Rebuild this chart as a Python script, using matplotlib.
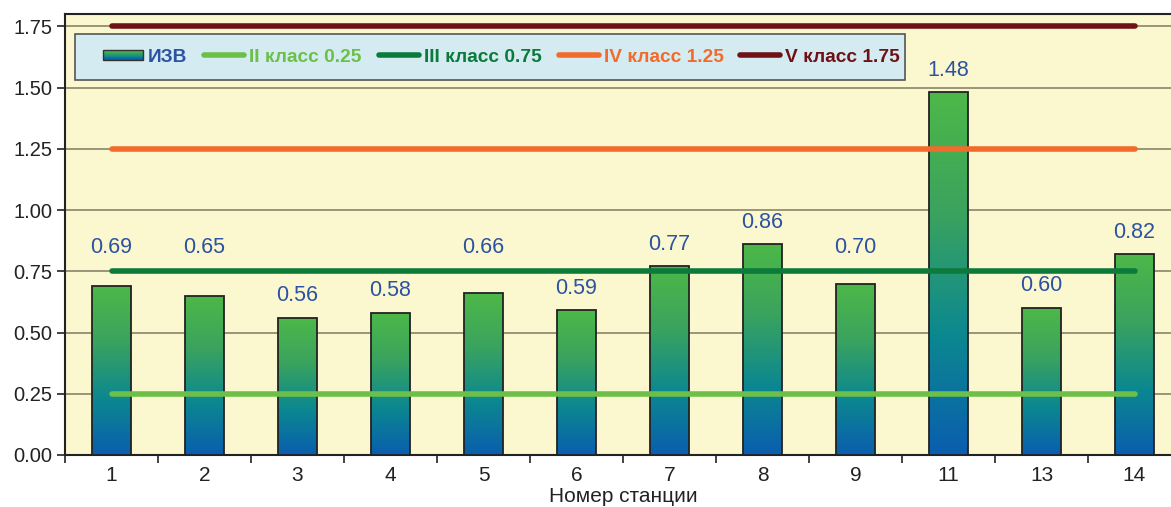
import numpy as np
import matplotlib
matplotlib.use("Agg")
import matplotlib.pyplot as plt
from matplotlib import font_manager
from matplotlib.patches import Rectangle
from matplotlib.lines import Line2D
from matplotlib.legend_handler import HandlerBase
from matplotlib.colors import LinearSegmentedColormap

stations = ["1", "2", "3", "4", "5", "6", "7", "8", "9", "11", "13", "14"]
izv = [0.69, 0.65, 0.56, 0.58, 0.66, 0.59, 0.77, 0.86, 0.70, 1.48, 0.60, 0.82]
class_names = ["II класс 0.25", "III класс 0.75", "IV класс 1.25", "V класс 1.75"]
class_values = [0.25, 0.75, 1.25, 1.75]
class_colors = ["#6CC04A", "#0B7A3B", "#F26A2C", "#6E1216"]
yticks = [0.0, 0.25, 0.5, 0.75, 1.0, 1.25, 1.5, 1.75]

W, H = 1171, 507
fig = plt.figure(figsize=(W / 100, H / 100), dpi=100)
fig.patch.set_facecolor("white")
ax = fig.add_axes([65 / W, 1 - 455 / H, 1116 / W, 441 / H])
bg = "#FBF7CF"
ax.set_facecolor(bg)

cmap = LinearSegmentedColormap.from_list("g", ["#0A5EAE", "#0C8890", "#3AA35E", "#4DB848"])
font = "Liberation Sans"
names = {f.name for f in font_manager.fontManager.ttflist}
if "Liberation Sans Narrow" in names:
    leg_family, leg_size = "Liberation Sans Narrow", 16
else:
    leg_family, leg_size = "Liberation Sans", 13.8
em = leg_size * 100 / 72.0

x = np.arange(len(stations))

for yv in yticks:
    ax.axhline(yv, color="#8A8468", lw=1.2, zorder=1)

bw = 0.41
bars = ax.bar(x, izv, width=bw, facecolor="none", edgecolor="#222222", lw=1.3, zorder=4)
grad = np.linspace(0, 1, 256).reshape(-1, 1)
for b in bars:
    x0, y0 = b.get_x(), b.get_y()
    w, h = b.get_width(), b.get_height()
    im = ax.imshow(grad, cmap=cmap, origin="lower", extent=[x0, x0 + w, y0, y0 + h],
                   aspect="auto", zorder=3, interpolation="bilinear")
    im.set_clip_path(b)

ax.set_aspect("auto")
ax.set_xlim(-0.5, len(stations) - 0.5)
ax.set_ylim(0, 1.8)

for v, c in zip(class_values, class_colors):
    ax.plot([x[0], x[-1]], [v, v], color=c, lw=4, solid_capstyle="round", zorder=5)

for xi, v in zip(x, izv):
    ly = v + 0.09
    if 0.62 < v < 0.75:
        ly = 0.845
    ax.text(xi, ly, f"{v:.2f}", ha="center", va="center", color="#2B52A3",
            fontsize=15.5, family=font, zorder=6)

ax.set_yticks(yticks)
ax.set_yticklabels([f"{t:.2f}" for t in yticks], fontsize=14.5, family=font, color="#222222")
ax.set_xticks(x)
ax.set_xticklabels(stations, fontsize=15, family=font, color="#222222")
ax.tick_params(axis="x", length=0, pad=8)
ax.tick_params(axis="y", length=6, width=1.2, color="#222222", pad=3)
ax.set_xticks(np.arange(-0.5, len(stations), 1), minor=True)
ax.tick_params(axis="x", which="minor", length=6, width=1.2, color="#222222")
ax.set_xlabel("Номер станции", fontsize=15, family=font, color="#222222", labelpad=1)

for s in ["left", "bottom", "top"]:
    ax.spines[s].set_color("#222222")
    ax.spines[s].set_linewidth(1.5)
ax.spines["right"].set_visible(False)


class GradHandler(HandlerBase):
    def create_artists(self, legend, orig_handle, xdescent, ydescent, width, height, fontsize, trans):
        arts = []
        n = 12
        h = height * 0.7
        y0 = -ydescent + (height - h) / 2
        for i in range(n):
            r = Rectangle((-xdescent, y0 + h * i / n), width, h / n,
                          facecolor=cmap(i / (n - 1)), edgecolor="none", transform=trans)
            arts.append(r)
        arts.append(Rectangle((-xdescent, y0), width, h, facecolor="none",
                              edgecolor="#333333", lw=1, transform=trans))
        return arts


frame = Rectangle((75 / W, 1 - 80 / H), 830 / W, 46 / H, transform=fig.transFigure,
                  facecolor="#D4ECF1", edgecolor="#555555", lw=1.2, zorder=9)
fig.add_artist(frame)

handles = [Rectangle((0, 0), 1, 1)] + [Line2D([], [], color=c, lw=4, solid_capstyle="round")
                                        for c in class_colors]
labels = ["ИЗВ"] + class_names
leg = fig.legend(handles, labels, loc="center left", bbox_to_anchor=(103 / W, 1 - 57 / H),
                 ncol=5, handler_map={Rectangle: GradHandler()},
                 prop={"family": leg_family, "weight": "bold", "size": leg_size},
                 frameon=False, borderpad=0, borderaxespad=0,
                 handlelength=40 / em, handletextpad=5 / em, columnspacing=17 / em)
for t, c in zip(leg.get_texts(), ["#2B52A3"] + class_colors):
    t.set_color(c)
leg.set_zorder(10)

fig.savefig("out.png", dpi=100)
